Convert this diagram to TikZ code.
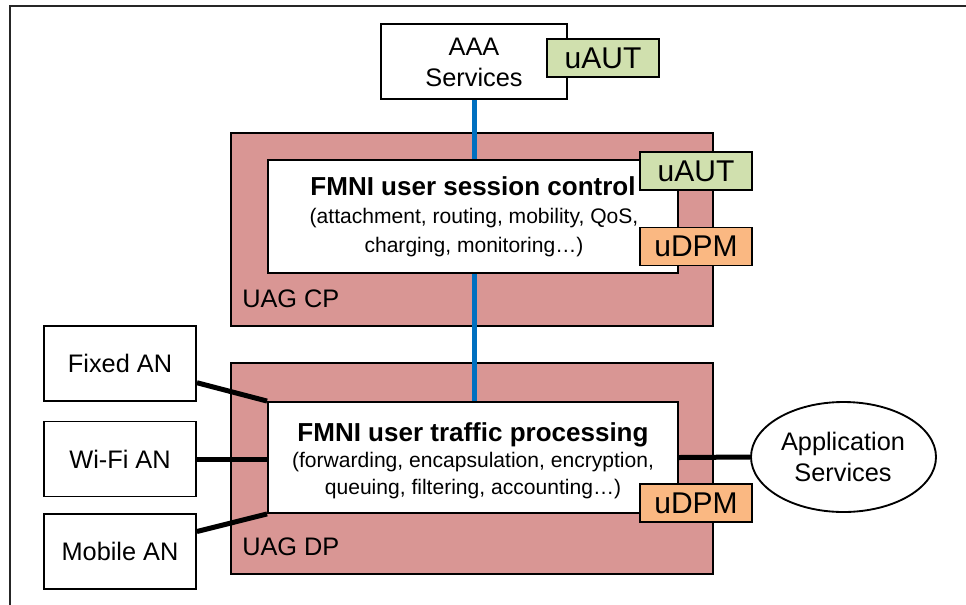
\documentclass[tikz,border=0pt]{standalone}
\usepackage{fontspec}
\setmainfont{Liberation Sans}
\usetikzlibrary{shapes.geometric,calc}

\definecolor{uagred}{HTML}{D99694}
\definecolor{autgreen}{HTML}{D0E0AE}
\definecolor{dpmorange}{HTML}{FAB882}
\definecolor{linkblue}{HTML}{0070C0}

\tikzset{
  box/.style={draw=black, line width=1.4pt, fill=white, inner sep=0pt},
  gateway/.style={box, fill=uagred},
  tagbox/.style={box, minimum width=84pt, minimum height=28.5pt,
    font=\fontsize{22.5}{27}\selectfont},
  autag/.style={tagbox, fill=autgreen},
  dpmtag/.style={tagbox, fill=dpmorange},
  lbl/.style={font=\fontsize{19}{23}\selectfont, anchor=base, inner sep=0pt},
  headline/.style={font=\fontsize{19.5}{23}\selectfont\bfseries, anchor=base, inner sep=0pt},
  detail/.style={font=\fontsize{15.8}{19}\selectfont, anchor=base, inner sep=0pt},
  anbox/.style={box, minimum width=114pt, minimum height=56.25pt,
    font=\fontsize{19}{23}\selectfont},
  link/.style={line width=3.75pt},
  ctrl/.style={line width=3.75pt, draw=linkblue},
}

\begin{document}
\begin{tikzpicture}[x=0.75pt,y=-0.75pt]
\useasboundingbox (0,0) rectangle (966,604);

% outer frame, open to the right and bottom
\coordinate (frameBL) at (9.5,640);
\coordinate (frameTL) at (9.5,5.5);
\coordinate (frameTR) at (1000,5.5);
\draw[line width=1.5pt, draw=black!85] (frameBL) -- (frameTL) -- (frameTR);

% user access gateway planes
\node[gateway, minimum width=361.5pt, minimum height=144.75pt] (cp) at (472,229.5) {};
\node[gateway, minimum width=361.5pt, minimum height=158.25pt] (dp) at (472,468.5) {};
\node[lbl, anchor=base west] (cplabel) at (242,307) {UAG CP};
\node[lbl, anchor=base west] (dplabel) at (242,555) {UAG DP};

% AAA and the data plane box
\node[box, minimum width=139.5pt, minimum height=56.25pt] (aaa) at (474,61.5) {};
\node[box, minimum width=307.5pt, minimum height=83.25pt] (traffic) at (473,457.5) {};

% control link from AAA down to the data plane
\draw[ctrl] (aaa.south) -- (aaa.south |- traffic.north);

% control plane box
\node[box, minimum width=307.5pt, minimum height=84.75pt] (session) at (473,216.5) {};

% texts
\node[lbl] (aaatxt1) at (474,55) {AAA};
\node[lbl] (aaatxt2) at (474,86) {Services};

\node[headline] (sesstitle) at (473,195) {FMNI user session control};
\node[detail] (sessline1) at (474,223) {(attachment, routing, mobility, QoS,};
\node[detail] (sessline2) at (474,252) {charging, monitoring…)};

\node[headline] (traftitle) at (473,441) {FMNI user traffic processing};
\node[detail] (trafline1) at (473,467) {(forwarding, encapsulation, encryption,};
\node[detail] (trafline2) at (473,494) {queuing, filtering, accounting…)};

% function tags
\node[autag] (auttop) at (603,58) {uAUT};
\node[autag] (autcp) at (696,171) {uAUT};
\node[dpmtag] (dpmcp) at (696,246.5) {uDPM};
\node[dpmtag] (dpmdp) at (696,503) {uDPM};

% access networks
\node[anbox] (fixed) at (120,363.5) {Fixed AN};
\node[anbox] (wifi) at (120,459) {Wi-Fi AN};
\node[anbox] (mobile) at (120,551.5) {Mobile AN};

% application services
\node[draw=black, fill=white, ellipse, line width=1.4pt, inner sep=0pt,
      minimum width=138.75pt, minimum height=82.5pt] (app) at (843.5,457) {};
\node[lbl] (apptxt1) at (843,450) {Application};
\node[lbl] (apptxt2) at (843,481) {Services};

% user traffic links
\draw[link] ($(fixed.south east)!0.25!(fixed.north east)$) -- (traffic.north west);
\draw[link] (wifi.east) -- (wifi.east -| traffic.west);
\draw[link] ($(mobile.north east)!0.24!(mobile.south east)$) -- (traffic.south west);
\draw[link] (traffic.east) -- (app.west);
\end{tikzpicture}
\end{document}
